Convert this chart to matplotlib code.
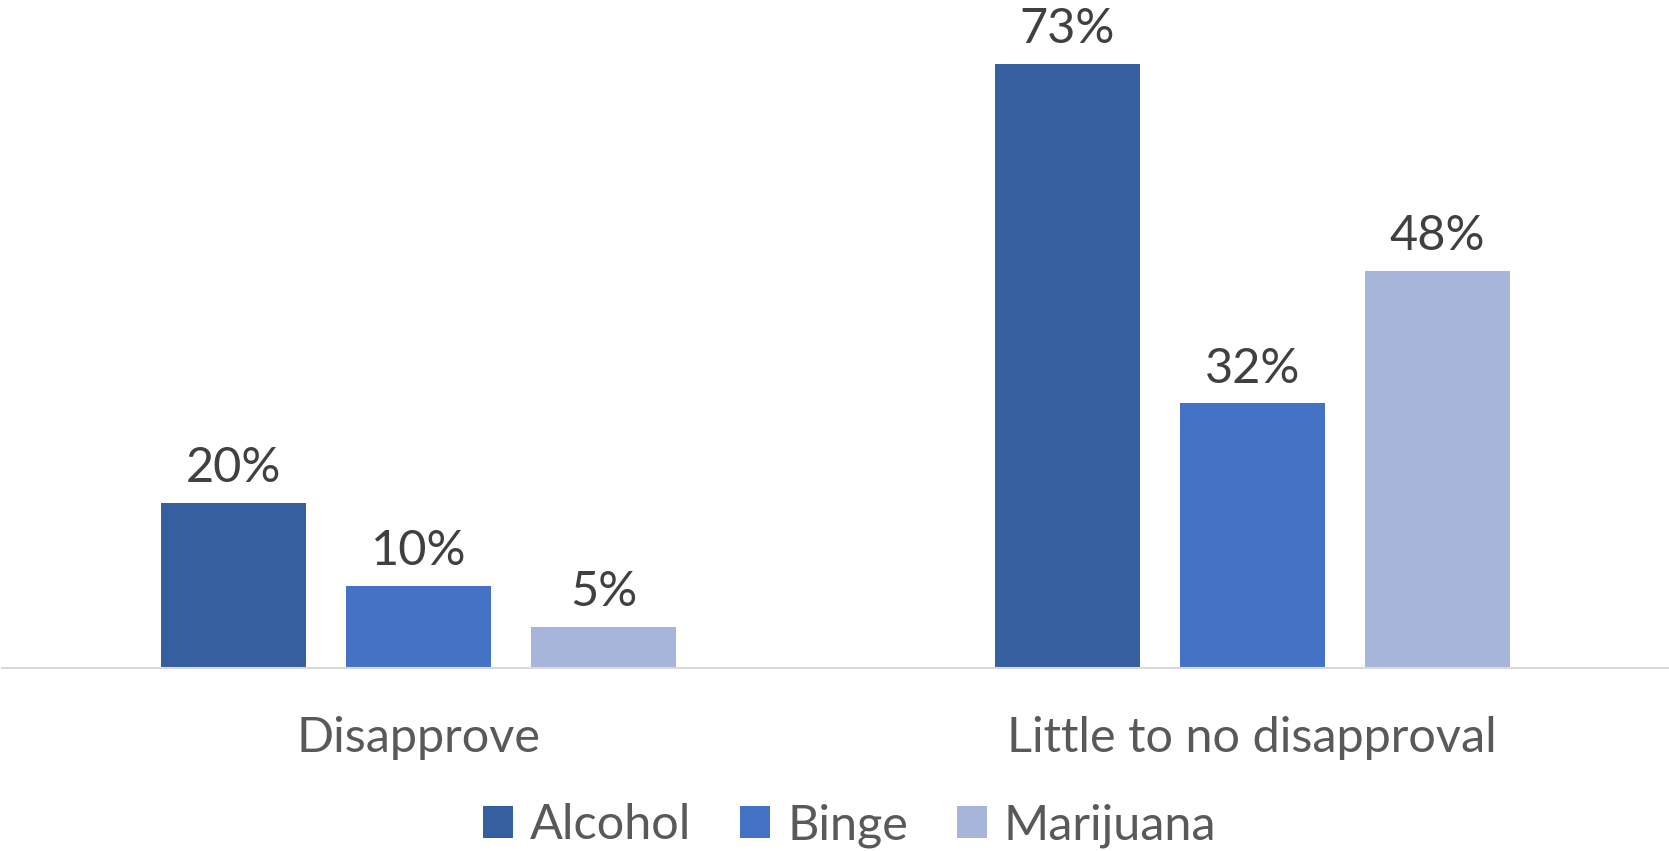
import matplotlib
matplotlib.use("Agg")
import matplotlib.pyplot as plt
import numpy as np

plt.rcParams['font.family'] = ['Lato', 'DejaVu Sans']

categories = ["Disapprove", "Little to no disapproval"]
series_names = ["Alcohol", "Binge", "Marijuana"]
alcohol = [20, 73]
binge = [10, 32]
marijuana = [5, 48]
colors = ["#365F9F", "#4472C4", "#A7B5DA"]

fig = plt.figure(figsize=(16.69, 8.51), dpi=100)
ax = fig.add_axes([0.001, 0.2145, 0.999, 0.7784])

x = np.arange(len(categories))
width = 0.174
step = 0.222
for i, (name, vals, c) in enumerate(zip(series_names, [alcohol, binge, marijuana], colors)):
    pos = x + (i - 1) * step
    bars = ax.bar(pos, vals, width, color=c, label=name)
    for b, v in zip(bars, vals):
        ax.annotate(f"{v}%", (b.get_x() + b.get_width() / 2, v),
                    xytext=(0, 15), textcoords="offset points",
                    ha="center", va="baseline", fontsize=35, color="#404040")

ax.set_xlim(-0.5, 1.5)
ax.set_ylim(0, 80)
for s in ["top", "right", "left"]:
    ax.spines[s].set_visible(False)
ax.spines["bottom"].set_color("#D9D9D9")
ax.spines["bottom"].set_linewidth(1.5)
ax.set_yticks([])
ax.set_xticks(x)
ax.set_xticklabels(categories, fontsize=35, color="#595959")
ax.tick_params(axis="x", length=0, pad=34)

fig.legend(loc="center", bbox_to_anchor=(0.509, 0.03), ncol=3, frameon=False,
           fontsize=35, handlelength=0.62, handleheight=0.62, handletextpad=0.35,
           columnspacing=1.0, labelcolor="#595959")

fig.savefig("out.png", dpi=100)
